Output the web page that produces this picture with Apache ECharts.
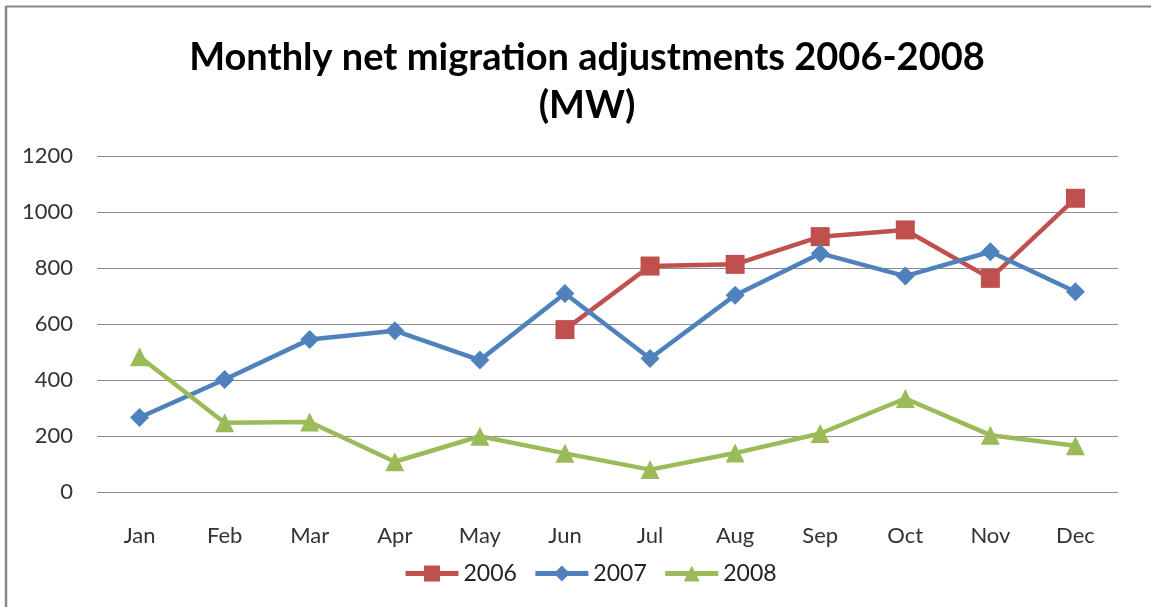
<!DOCTYPE html>
<html>
<head>
<meta charset="utf-8">
<script src="https://cdn.jsdelivr.net/npm/echarts@6/dist/echarts.min.js"></script>
<style>html,body{margin:0;padding:0;background:#fff}#c{width:1151px;height:607px}</style>
</head>
<body>
<div id="c"></div>
<script>
const months = ["Jan","Feb","Mar","Apr","May","Jun","Jul","Aug","Sep","Oct","Nov","Dec"];
const s2006 = [null,null,null,null,null,580,807,813,912,936,763,1049];
const s2007 = [266,402,545,576,471,709,477,703,852,771,858,715];
const s2008 = [483,247,250,108,199,138,80,139,209,334,203,165];
const yTicks = [0,200,400,600,800,1000,1200];

const chart = echarts.init(document.getElementById('c'), null, {renderer:'canvas'});
const font = 'Lato, "Open Sans", sans-serif';
function line(name, data, color, symbol, size){
  return {name, type:'line', data, symbol, symbolSize:size, showAllSymbol:true, connectNulls:false,
    lineStyle:{color, width:4.5}, itemStyle:{color}, emphasis:{disabled:true}, z:3};
}
chart.setOption({
  animation:false,
  backgroundColor:'#fff',
  title:{text:'Monthly net migration adjustments 2006-2008\n(MW)', left:582, textAlign:'center', top:29,
    textStyle:{fontFamily:font, fontWeight:'bold', fontSize:38, color:'#000', lineHeight:48}},
  grid:{left:97, right:33, top:156, bottom:115, containLabel:false},
  legend:{bottom:17, left:398, itemWidth:53, itemHeight:20, itemGap:16,
    lineStyle:{width:5},
    textStyle:{fontFamily:font, fontSize:23, color:'#222'},
    data:['2006','2007','2008']},
  xAxis:{type:'category', data:months, boundaryGap:true,
    axisLine:{show:false}, axisTick:{show:false},
    axisLabel:{fontFamily:font, fontSize:22, color:'#333', margin:33}},
  yAxis:{type:'value', min:0, max:1200, interval:200,
    axisLine:{show:false}, axisTick:{show:false},
    axisLabel:{fontFamily:font, fontSize:22, color:'#333', margin:24,
      formatter:v=> yTicks.includes(v)? String(v):''},
    splitLine:{lineStyle:{color:'#8c8c8c', width:1}}},
  graphic:[
    {type:'line', shape:{x1:6, y1:6.5, x2:1151, y2:6.5}, style:{stroke:'#888', lineWidth:2}},
    {type:'line', shape:{x1:6, y1:6, x2:6, y2:607}, style:{stroke:'#888', lineWidth:2.5}}
  ],
  series:[
    line('2006', s2006, '#C0504D', 'rect', 19),
    line('2007', s2007, '#4F81BD', 'diamond', 19),
    line('2008', s2008, '#9BBB59', 'triangle', 19)
  ]
});
</script>
</body>
</html>
